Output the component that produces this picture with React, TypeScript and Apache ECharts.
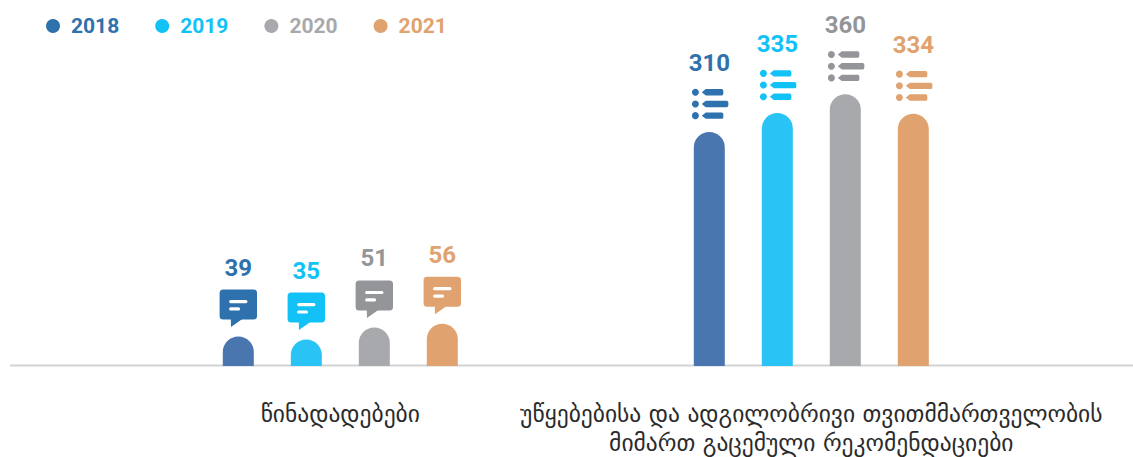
import React, { useEffect, useRef } from "react";
import * as echarts from "echarts";

const categories = ["წინადადებები", "უწყებებისა და ადგილობრივი თვითმმართველობის\nმიმართ გაცემული რეკომენდაციები"];
const years = ["2018", "2019", "2020", "2021"];
const values2018 = [39, 310];
const values2019 = [35, 335];
const values2020 = [51, 360];
const values2021 = [56, 334];
const seriesValues = [values2018, values2019, values2020, values2021];
const barColors = ["#4a76b0", "#29c3f5", "#a7a9ac", "#e0a26e"];
const inkColors = ["#2f71ad", "#12c1f5", "#939598", "#e0a26e"];
const legendColors = ["#2f71ad", "#12c1f5", "#a7a9ac", "#e0a26e"];
const legendTextColors = ["#2f71ad", "#12c1f5", "#a7a9ac", "#e0a26e"];

const FONT = "Roboto, sans-serif";
const BAR_W = 31;
const STEP = 68;

function rowPath(y: number, end: number) {
  const t = y - 3.2, b = y + 3.2, c = 1.6;
  return `M-7.5 ${y}L-3.5 ${t}L${end - c} ${t}Q${end} ${t} ${end} ${t + c}L${end} ${b - c}Q${end} ${b} ${end - c} ${b}L-3.5 ${b}Z`;
}

function bubbleIcon(fill: string) {
  return [
    { type: "rect", shape: { x: -18.7, y: -47, width: 37.4, height: 30, r: 3.5 }, style: { fill } },
    { type: "polygon", shape: { points: [[-7.5, -17.5], [-7.3, -9.5], [4, -17.5]] }, style: { fill } },
    { type: "rect", shape: { x: -9.2, y: -36.6, width: 18.4, height: 3.2, r: 1.6 }, style: { fill: "#fff" } },
    { type: "rect", shape: { x: -9.2, y: -29.2, width: 11, height: 3.2, r: 1.6 }, style: { fill: "#fff" } },
  ];
}

function listIcon(fill: string) {
  const rows: [number, number][] = [[-39.7, 14], [-28, 19], [-16.3, 14]];
  const out: any[] = [];
  rows.forEach(([y, end]) => {
    out.push({ type: "circle", shape: { cx: -13.9, cy: y, r: 3.5 }, style: { fill } });
    out.push({ type: "path", shape: { pathData: rowPath(y, end) }, style: { fill } });
  });
  return out;
}

export default function App() {
  const ref = useRef<HTMLDivElement>(null);
  useEffect(() => {
    document.body.style.margin = "0";
    const chart = echarts.init(ref.current!, undefined, { renderer: "svg" });
    const barSeries = years.map((y, i) => ({
      name: y,
      type: "bar",
      data: seriesValues[i],
      barWidth: BAR_W,
      barGap: "119.35%",
      itemStyle: { color: barColors[i], borderRadius: [15.5, 15.5, 0, 0] },
      label: {
        show: true,
        position: "top",
        distance: 57,
        fontFamily: FONT,
        fontWeight: 700,
        fontSize: 24,
        color: i === 2 ? "#939598" : inkColors[i],
      },
    }));
    const iconData: number[][] = [];
    seriesValues.forEach((vals, s) => vals.forEach((v, c) => iconData.push([c, v, s])));
    chart.setOption({
      animation: false,
      backgroundColor: "#fff",
      grid: { left: 104.8, width: 942, top: 3.6, height: 362.4, outerBoundsMode: "none" },
      legend: {
        left: 46,
        top: 15.5,
        padding: 0,
        icon: "circle",
        itemWidth: 14,
        itemHeight: 14,
        itemGap: 36,
        data: years.map((y, i) => ({
          name: y,
          itemStyle: { color: legendColors[i] },
          textStyle: { color: legendTextColors[i], fontFamily: FONT, fontWeight: 700, fontSize: 21, padding: [0, 0, 0, 6] },
        })),
      },
      xAxis: {
        type: "category",
        data: categories,
        axisLine: { show: false },
        axisTick: { show: false },
        axisLabel: {
          interval: 0,
          margin: 33,
          fontFamily: "DejaVu Sans, sans-serif",
          fontSize: 23.5,
          lineHeight: 29,
          color: "#2b2b2b",
        },
      },
      yAxis: { type: "value", min: 0, max: 480, show: false },
      series: [
        ...barSeries,
        {
          type: "custom",
          name: "icons",
          silent: true,
          data: iconData,
          encode: { x: 0, y: 1 },
          renderItem: (_p: any, api: any) => {
            const cat = api.value(0);
            const val = api.value(1);
            const s = api.value(2);
            const pt = api.coord([cat, val]);
            return {
              type: "group",
              x: pt[0] + (s - 1.5) * STEP,
              y: pt[1],
              children: cat === 0 ? bubbleIcon(inkColors[s]) : listIcon(inkColors[s]),
            };
          },
        },
      ],
      graphic: [
        {
          type: "line",
          shape: { x1: 10, y1: 365.5, x2: 1133, y2: 365.5 },
          style: { stroke: "#d1d3d4", lineWidth: 2 },
          z: -1,
        },
      ],
    });
    return () => chart.dispose();
  }, []);
  return <div ref={ref} style={{ position: "absolute", left: 0, top: 0, width: 1133, height: 457 }} />;
}
